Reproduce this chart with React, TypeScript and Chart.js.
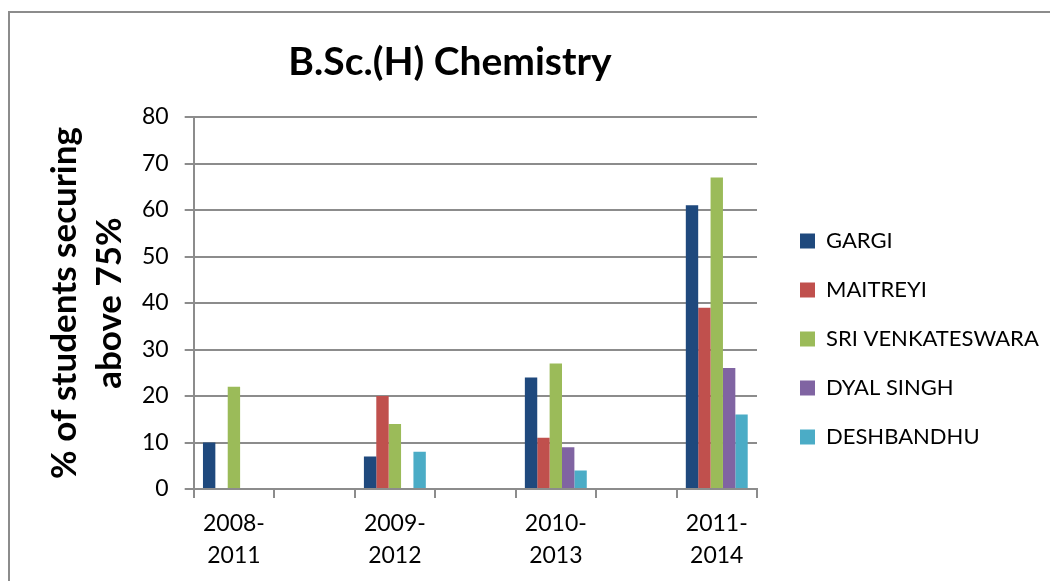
import React, { useEffect, useRef } from "react";
import { Chart, registerables } from "chart.js";

Chart.register(...registerables);

const TITLE = "B.Sc.(H) Chemistry";
const Y_TITLE = ["% of students securing", "above 75%"];
const CATEGORIES = [
  ["2008-", "2011"],
  ["2009-", "2012"],
  ["2010-", "2013"],
  ["2011-", "2014"],
];
const SERIES_NAMES = ["GARGI", "MAITREYI", "SRI VENKATESWARA", "DYAL SINGH", "DESHBANDHU"];
const GARGI = [10, 7, 24, 61];
const MAITREYI = [0, 20, 11, 39];
const SRI_VENKATESWARA = [22, 14, 27, 67];
const DYAL_SINGH = [0, 0, 9, 26];
const DESHBANDHU = [0, 8, 4, 16];
const SERIES_COLORS = ["#1F497D", "#C0504D", "#9BBB59", "#8064A2", "#4BACC6"];
const Y_MIN = 0;
const Y_MAX = 80;
const Y_STEP = 10;

const FONT = "Lato, 'Open Sans', 'Noto Sans', sans-serif";
const GRID = "#8c8c8c";
const LEGEND_WIDTH = 285;

// Excel-style layout: an empty category slot between each period
function spaced<T>(arr: T[], filler: T): T[] {
  const out: T[] = [];
  arr.forEach((v, i) => {
    if (i > 0) out.push(filler);
    out.push(v);
  });
  return out;
}

const titlePlugin = {
  id: "excelTitle",
  afterDraw(chart: any) {
    const { ctx, chartArea } = chart;
    ctx.save();
    ctx.font = `bold 39px ${FONT}`;
    ctx.fillStyle = "#000";
    ctx.textAlign = "center";
    ctx.textBaseline = "middle";
    const cx = chartArea.left + (chartArea.right - chartArea.left) * 0.455;
    ctx.fillText(TITLE, cx, chartArea.top - 55);
    ctx.restore();
  },
};

// let the right-hand legend be as wide as its longest label needs
const legendWidthPlugin = {
  id: "legendWidth",
  beforeLayout(chart: any) {
    const lg = chart.legend;
    if (lg && !lg.__fixedWidth) {
      const fit = lg.fit.bind(lg);
      lg.fit = () => {
        fit();
        lg.width = LEGEND_WIDTH;
      };
      lg.__fixedWidth = true;
    }
  },
};

export default function App() {
  const ref = useRef<HTMLCanvasElement>(null);

  useEffect(() => {
    if (!ref.current) return;
    const seriesValues = [GARGI, MAITREYI, SRI_VENKATESWARA, DYAL_SINGH, DESHBANDHU];
    const chart = new Chart(ref.current, {
      type: "bar",
      data: {
        labels: spaced<any>(CATEGORIES, ""),
        datasets: SERIES_NAMES.map((name, i) => ({
          label: name,
          data: spaced<number | null>(seriesValues[i], null),
          backgroundColor: SERIES_COLORS[i],
          borderWidth: 0,
          categoryPercentage: 5 / 6.5,
          barPercentage: 1,
          xAxisID: "x",
          yAxisID: "y",
        })),
      },
      options: {
        responsive: false,
        animation: false,
        layout: { padding: { left: 19, right: 0, top: 88, bottom: -1 } },
        plugins: {
          title: { display: false },
          tooltip: { enabled: false },
          legend: {
            position: "right",
            align: "center",
            labels: {
              font: { family: FONT, size: 22 },
              color: "#000",
              boxWidth: 15,
              boxHeight: 15,
              padding: 27,
            },
          },
        },
        scales: {
          x: {
            position: "bottom",
            offset: true,
            grid: {
              display: true,
              drawOnChartArea: false,
              drawTicks: true,
              tickLength: 9,
              color: GRID,
              lineWidth: 2,
              offset: true,
            },
            border: { display: true, color: GRID, width: 2 },
            ticks: {
              font: { family: FONT, size: 23, lineHeight: "32px" },
              color: "#000",
              padding: 10,
              maxRotation: 0,
              autoSkip: false,
            },
          },
          y: {
            position: "left",
            min: Y_MIN,
            max: Y_MAX,
            grid: {
              color: GRID,
              lineWidth: 2,
              drawTicks: true,
              tickLength: 9,
            },
            border: { display: true, color: GRID, width: 2 },
            ticks: {
              stepSize: Y_STEP,
              font: { family: FONT, size: 23 },
              color: "#000",
              padding: 16,
            },
            title: {
              display: true,
              text: Y_TITLE,
              font: { family: FONT, size: 35, weight: "bold", lineHeight: "45px" },
              color: "#000",
              padding: { top: 15, bottom: -6 },
            },
          },
          padTop: {
            type: "linear",
            position: "top",
            display: true,
            grid: { display: false },
            border: { display: false },
            ticks: { display: false },
            afterFit: (scale: any) => {
              scale.height = 21;
            },
          },
          padRight: {
            type: "linear",
            position: "right",
            display: true,
            grid: { display: false },
            border: { display: false },
            ticks: { display: false },
            afterFit: (scale: any) => {
              scale.width = 16;
            },
          },
        },
      },
      plugins: [titlePlugin, legendWidthPlugin],
    } as any);
    return () => chart.destroy();
  }, []);

  return (
    <div style={{ position: "relative", width: 1050, height: 573, overflow: "hidden" }}>
      <div
        style={{
          position: "absolute",
          left: 0,
          top: 3,
          width: 1100,
          height: 620,
          borderLeft: `2px solid ${GRID}`,
          borderTop: `2px solid ${GRID}`,
        }}
      />
      <canvas ref={ref} width={1050} height={573} style={{ position: "absolute", left: 0, top: 0 }} />
    </div>
  );
}
